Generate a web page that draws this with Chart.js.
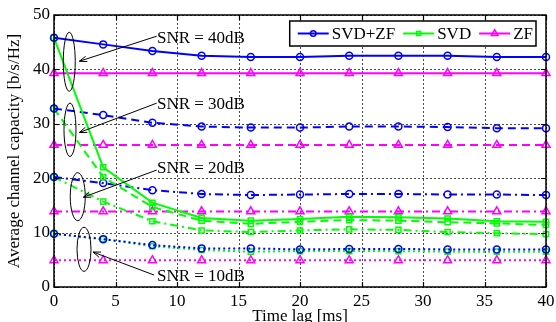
<!DOCTYPE html>
<html>
<head>
<meta charset="utf-8">
<script src="https://cdn.jsdelivr.net/npm/chart.js@4.4.1/dist/chart.umd.min.js"></script>
<style>
html, body { margin: 0; padding: 0; background: #fff; }
#wrap { width: 556px; height: 322px; }
</style>
</head>
<body>
<div id="wrap"><canvas id="capChart"></canvas></div>
<script>
// time lag (ms) where the curves were sampled
var timeLag = [0, 4, 8, 12, 16, 20, 24, 28, 32, 36, 40];
var xTicks = [0, 5, 10, 15, 20, 25, 30, 35, 40];
var yTicks = [0, 10, 20, 30, 40, 50];

// SVD+ZF
var svdzf40 = [45.8, 44.6, 43.4, 42.5, 42.3, 42.3, 42.5, 42.5, 42.5, 42.3, 42.3];
var svdzf30 = [32.8, 31.6, 30.2, 29.5, 29.3, 29.3, 29.5, 29.5, 29.4, 29.2, 29.2];
var svdzf20 = [20.2, 19.1, 17.8, 17.1, 16.9, 17.0, 17.1, 17.1, 17.0, 17.0, 16.9];
var svdzf10 = [9.8, 8.8, 7.7, 7.1, 7.1, 6.9, 7.0, 7.0, 6.9, 6.9, 6.9];

// SVD
var svd40 = [45.8, 22.0, 15.5, 12.7, 12.2, 12.5, 12.9, 12.8, 12.6, 12.1, 12.0];
var svd30 = [32.8, 20.2, 14.7, 12.2, 11.6, 12.0, 12.3, 12.2, 11.9, 11.7, 11.4];
var svd20 = [20.2, 15.7, 12.1, 10.4, 10.1, 10.4, 10.6, 10.5, 10.1, 9.9, 9.7];
var svd10 = [9.8, 8.8, 7.5, 6.8, 6.5, 6.6, 6.6, 6.6, 6.5, 6.5, 6.5];

// ZF
var zf40 = [39.3, 39.3, 39.3, 39.3, 39.3, 39.3, 39.3, 39.3, 39.3, 39.3, 39.3];
var zf30 = [26.1, 26.1, 26.1, 26.1, 26.1, 26.1, 26.1, 26.1, 26.1, 26.1, 26.1];
var zf20 = [13.9, 13.9, 13.9, 13.9, 13.9, 13.9, 13.9, 13.9, 13.9, 13.9, 13.9];
var zf10 = [4.9, 4.9, 4.9, 4.9, 4.9, 4.9, 4.9, 4.9, 4.9, 4.9, 4.9];

var legendNames = ["SVD+ZF", "SVD", "ZF"];
var snrLabels = ["SNR = 40dB", "SNR = 30dB", "SNR = 20dB", "SNR = 10dB"];

var serif = "'Liberation Serif', 'Times New Roman', serif";
var BLUE = "#0000ff", GREEN = "#00ff00", MAGENTA = "#ff00ff";
var DASH = { solid: [], dash: [8, 5], dashdot: [8, 4, 2, 4], dot: [2, 3] };

function pts(vals) {
    return vals.map(function (v, i) { return { x: timeLag[i], y: v }; });
}

function series(name, vals, color, style, marker, radius) {
    return {
        label: name,
        data: pts(vals),
        borderColor: color,
        borderWidth: 2,
        borderDash: DASH[style],
        pointStyle: marker,
        pointRadius: radius,
        pointBorderWidth: 1.5,
        pointBorderColor: color,
        pointBackgroundColor: "rgba(0,0,0,0)",
        pointHoverRadius: radius,
        fill: false,
        tension: 0,
        clip: false
    };
}

var datasets = [
    series("SVD+ZF", svdzf40, BLUE, "solid", "circle", 3.5),
    series("SVD", svd40, GREEN, "solid", "rect", 3.6),
    series("ZF", zf40, MAGENTA, "solid", "triangle", 4.6),
    series("SVD+ZF 30", svdzf30, BLUE, "dash", "circle", 3.5),
    series("SVD 30", svd30, GREEN, "dash", "rect", 3.6),
    series("ZF 30", zf30, MAGENTA, "dash", "triangle", 4.6),
    series("SVD+ZF 20", svdzf20, BLUE, "dashdot", "circle", 3.5),
    series("SVD 20", svd20, GREEN, "dashdot", "rect", 3.6),
    series("ZF 20", zf20, MAGENTA, "dashdot", "triangle", 4.6),
    series("SVD+ZF 10", svdzf10, BLUE, "dot", "circle", 3.5),
    series("SVD 10", svd10, GREEN, "dot", "rect", 3.6),
    series("ZF 10", zf10, MAGENTA, "dot", "triangle", 4.6)
];

// ellipse + arrow + label for each SNR group (data units for positions)
var notes = [
    { text: snrLabels[0], cx: 1.24, cy: 41.4, rx: 6, ry: 29.5, tx: 8.37, ty: 45.6, ax: 8.35, ay: 46.1, hx: 2.06, hy: 41.5 },
    { text: snrLabels[1], cx: 1.30, cy: 28.9, rx: 6, ry: 26.7, tx: 8.37, ty: 33.6, ax: 8.35, ay: 33.8, hx: 2.06, hy: 28.4 },
    { text: snrLabels[2], cx: 1.93, cy: 16.6, rx: 7.5, ry: 24, tx: 8.37, ty: 21.7, ax: 8.35, ay: 21.5, hx: 2.38, hy: 16.5 },
    { text: snrLabels[3], cx: 2.44, cy: 6.93, rx: 7, ry: 22, tx: 8.37, ty: 1.84, ax: 8.13, ay: 2.2, hx: 3.17, hy: 6.43 }
];

function drawMarker(ctx, style, x, y, r) {
    Chart.helpers.drawPoint(ctx, { pointStyle: style, radius: r, borderWidth: 1.5 }, x, y);
}

var figurePlugin = {
    id: "figure",
    // dotted matlab-style grid under the curves
    beforeDatasetsDraw: function (chart) {
        var ctx = chart.ctx, a = chart.chartArea;
        var xs = chart.scales.x, ys = chart.scales.y;
        ctx.save();
        ctx.strokeStyle = "#4a4a4a";
        ctx.lineWidth = 1;
        ctx.setLineDash([2, 2]);
        ctx.beginPath();
        xTicks.forEach(function (v) {
            var px = Math.round(xs.getPixelForValue(v)) + 0.5;
            ctx.moveTo(px, a.top); ctx.lineTo(px, a.bottom);
        });
        yTicks.forEach(function (v) {
            var py = Math.round(ys.getPixelForValue(v)) + 0.5;
            ctx.moveTo(a.left, py); ctx.lineTo(a.right, py);
        });
        ctx.stroke();
        ctx.restore();
    },
    afterDatasetsDraw: function (chart) {
        var ctx = chart.ctx, a = chart.chartArea;
        var xs = chart.scales.x, ys = chart.scales.y;
        ctx.save();

        // annotations
        ctx.strokeStyle = "#000";
        ctx.fillStyle = "#000";
        ctx.lineWidth = 1;
        ctx.setLineDash([]);
        ctx.font = "17px " + serif;
        ctx.textBaseline = "middle";
        ctx.textAlign = "left";
        notes.forEach(function (n) {
            var cx = xs.getPixelForValue(n.cx), cy = ys.getPixelForValue(n.cy);
            ctx.beginPath();
            ctx.ellipse(cx, cy, n.rx, n.ry, 0, 0, Math.PI * 2);
            ctx.stroke();
            var x0 = xs.getPixelForValue(n.ax), y0 = ys.getPixelForValue(n.ay);
            var x1 = xs.getPixelForValue(n.hx), y1 = ys.getPixelForValue(n.hy);
            ctx.beginPath();
            ctx.moveTo(x0, y0);
            ctx.lineTo(x1, y1);
            ctx.stroke();
            var ang = Math.atan2(y1 - y0, x1 - x0);
            ctx.beginPath();
            ctx.moveTo(x1 - 8 * Math.cos(ang - 0.35), y1 - 8 * Math.sin(ang - 0.35));
            ctx.lineTo(x1, y1);
            ctx.lineTo(x1 - 8 * Math.cos(ang + 0.35), y1 - 8 * Math.sin(ang + 0.35));
            ctx.stroke();
            ctx.fillText(n.text, xs.getPixelForValue(n.tx), ys.getPixelForValue(n.ty));
        });

        // box and inward ticks
        ctx.lineWidth = 1.5;
        ctx.strokeRect(a.left, a.top, a.right - a.left, a.bottom - a.top);
        ctx.lineWidth = 1.2;
        ctx.beginPath();
        xTicks.forEach(function (v) {
            var px = Math.round(xs.getPixelForValue(v)) + 0.5;
            ctx.moveTo(px, a.bottom); ctx.lineTo(px, a.bottom - 5);
            ctx.moveTo(px, a.top); ctx.lineTo(px, a.top + 5);
        });
        yTicks.forEach(function (v) {
            var py = Math.round(ys.getPixelForValue(v)) + 0.5;
            ctx.moveTo(a.left, py); ctx.lineTo(a.left + 5, py);
            ctx.moveTo(a.right, py); ctx.lineTo(a.right - 5, py);
        });
        ctx.stroke();

        // legend
        var styles = [["circle", BLUE, 2.8], ["rect", GREEN, 2.8], ["triangle", MAGENTA, 3.8]];
        ctx.font = "17px " + serif;
        var lineLen = 31, gapIn = 3, gapOut = 8, padL = 8, padR = 3;
        var w = padL + padR;
        legendNames.forEach(function (nm, i) {
            w += lineLen + gapIn + ctx.measureText(nm).width + (i < legendNames.length - 1 ? gapOut : 0);
        });
        var bx = a.right - 10 - w, by = a.top + 6, bh = 25;
        ctx.fillStyle = "#fff";
        ctx.fillRect(bx, by, w, bh);
        ctx.strokeStyle = "#000";
        ctx.lineWidth = 1.5;
        ctx.strokeRect(bx, by, w, bh);
        var cx = bx + padL, cy = by + bh / 2;
        legendNames.forEach(function (nm, i) {
            var s = styles[i];
            ctx.strokeStyle = s[1];
            ctx.lineWidth = 2;
            ctx.beginPath();
            ctx.moveTo(cx, cy);
            ctx.lineTo(cx + lineLen, cy);
            ctx.stroke();
            ctx.fillStyle = "rgba(0,0,0,0)";
            ctx.lineWidth = 1.5;
            drawMarker(ctx, s[0], cx + lineLen / 2, cy, s[2]);
            ctx.fillStyle = "#000";
            ctx.textAlign = "left";
            ctx.textBaseline = "middle";
            ctx.fillText(nm, cx + lineLen + gapIn, cy + 1);
            cx += lineLen + gapIn + ctx.measureText(nm).width + gapOut;
        });
        ctx.restore();
    }
};

new Chart("capChart", {
    type: "line",
    data: { datasets: datasets },
    options: {
        responsive: true,
        maintainAspectRatio: false,
        animation: false,
        layout: { padding: { left: 0, right: 10, top: 15, bottom: 0 } },
        plugins: {
            legend: { display: false },
            tooltip: { enabled: false },
            title: { display: false }
        },
        scales: {
            x: {
                type: "linear",
                min: 0,
                max: 40,
                afterFit: function (s) { s.height = 35; s.paddingLeft = 0; s.paddingRight = 0; },
                ticks: {
                    stepSize: 5,
                    padding: 4,
                    color: "#000",
                    font: { family: serif, size: 17 },
                    maxRotation: 0
                },
                grid: { display: false, drawTicks: false },
                border: { display: false },
                title: {
                    display: true,
                    text: "Time lag [ms]",
                    color: "#000",
                    font: { family: serif, size: 17, lineHeight: 0.6 },
                    padding: { top: 0, bottom: 0 }
                }
            },
            y: {
                min: 0,
                max: 50,
                afterFit: function (s) { s.width = 54; s.paddingTop = 0; s.paddingBottom = 0; },
                ticks: {
                    stepSize: 10,
                    padding: 4,
                    color: "#000",
                    font: { family: serif, size: 17 }
                },
                grid: { display: false, drawTicks: false },
                border: { display: false },
                title: {
                    display: true,
                    text: "Average channel capacity [b/s/Hz]",
                    color: "#000",
                    font: { family: serif, size: 17, lineHeight: 1.2 },
                    padding: { top: 4, bottom: 0 }
                }
            }
        }
    },
    plugins: [figurePlugin]
});
</script>
</body>
</html>
